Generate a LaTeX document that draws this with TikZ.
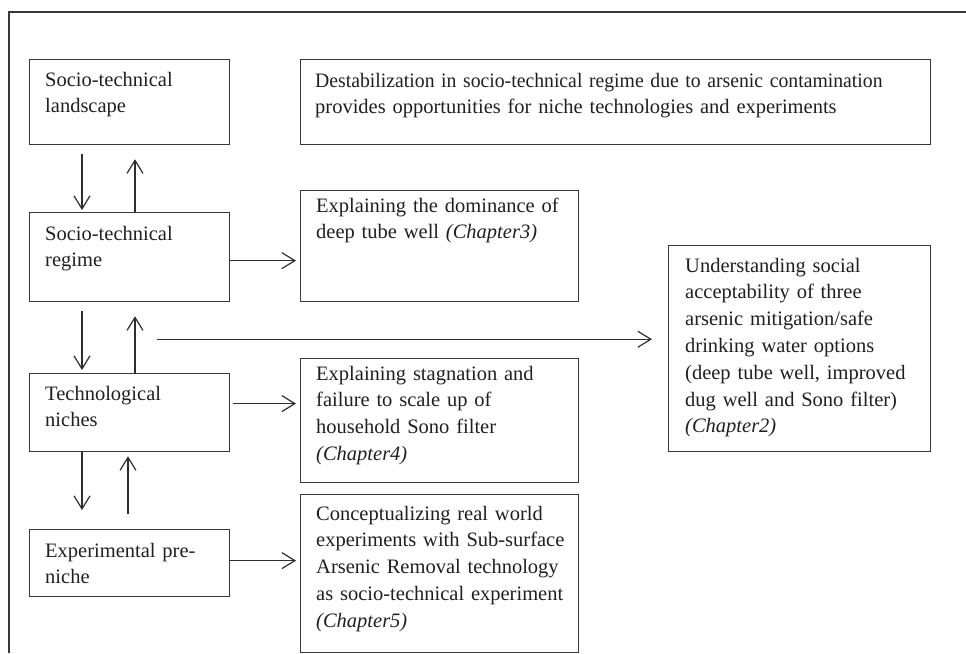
\documentclass[tikz,border=0pt]{standalone}
\usepackage{graphicx}
\usepackage{fontspec}
\setmainfont{Liberation Serif}
\usetikzlibrary{arrows.meta}

\begin{document}
\begin{tikzpicture}[x=1pt,y=-1pt,
  box/.style={draw=black!78, line width=1.25pt, anchor=north west, inner sep=0pt, rectangle},
  txt/.style={anchor=base west, inner sep=0pt, align=left, text=black!88,
    font=\fontsize{20.5}{26.8}\selectfont},
  arr/.style={draw=black!82, line width=1.2pt, -{Straight Barb[length=13pt,width=16pt,line width=1.2pt]}},
  frame/.style={draw=black!78, line width=1.25pt}]
\useasboundingbox (0,0) rectangle (966,653);

% outer frame (open on the right and bottom)
\coordinate (fbl) at (9,653);
\coordinate (ftl) at (9,12);
\coordinate (ftr) at (966,12);
\draw[frame] (fbl) -- (ftl) -- (ftr);

% left column: levels of the multi-level perspective
\node[box, minimum width=200pt, minimum height=85pt] (land) at (29,59) {};
\node[txt, text width=180pt] (landt) at (45,86) {Socio-technical\\landscape};

\node[box, minimum width=200pt, minimum height=89pt] (reg) at (29,212) {};
\node[txt, text width=180pt] (regt) at (45,240) {Socio-technical\\regime};

\node[box, minimum width=200pt, minimum height=78pt] (niche) at (29,373) {};
\node[txt, text width=180pt] (nicht) at (45,400) {Technological\\niches};

\node[box, minimum width=200pt, minimum height=67pt] (exp) at (29,529) {};
\node[txt, text width=180pt] (expt) at (45,557) {Experimental pre-\\niche};

% right column: chapters
\node[box, minimum width=630pt, minimum height=85pt] (dest) at (300,59) {};
\node[txt, text width=610pt] (destt) at (315,87) {\scalebox{0.962}[1]{Destabilization in socio-technical regime due to arsenic contamination}\\provides opportunities for niche technologies and experiments};

\node[box, minimum width=278pt, minimum height=111pt] (ch3) at (300,190) {};
\node[txt, text width=260pt] (ch3t) at (316,212) {Explaining the dominance of\\deep tube well \textit{(Chapter3)}};

\node[box, minimum width=278pt, minimum height=124pt] (ch4) at (300,358) {};
\node[txt, text width=260pt] (ch4t) at (316,380) {Explaining stagnation and\\failure to scale up of\\household Sono filter\\\textit{(Chapter4)}};

\node[box, minimum width=278pt, minimum height=158pt] (ch5) at (300,494) {};
\node[txt, text width=260pt] (ch5t) at (316,520) {Conceptualizing real world\\experiments with Sub-surface\\Arsenic Removal technology\\as socio-technical experiment\\\textit{(Chapter5)}};

\node[box, minimum width=262pt, minimum height=206pt] (ch2) at (668,245) {};
\node[txt, text width=245pt] (ch2t) at (685,272) {Understanding social\\acceptability of three\\arsenic mitigation/safe\\drinking water options\\(deep tube well, improved\\dug well and Sono filter)\\\textit{(Chapter2)}};

% vertical links between levels
\draw[arr] ([xshift=53pt,yshift=-9pt]land.south west) -- ([xshift=53pt,yshift=2pt]reg.north west);
\draw[arr] ([xshift=106pt]reg.north west) -- ([xshift=106pt,yshift=-14pt]land.south west);
\draw[arr] ([xshift=53pt,yshift=-9pt]reg.south west) -- ([xshift=53pt,yshift=3pt]niche.north west);
\draw[arr] ([xshift=106pt]niche.north west) -- ([xshift=106pt,yshift=-14pt]reg.south west);
\draw[arr] ([xshift=53pt]niche.south west) -- ([xshift=53pt,yshift=19pt]exp.north west);
\draw[arr] ([xshift=99pt,yshift=15pt]exp.north west) -- ([xshift=99pt,yshift=-4pt]niche.south west);

% links to chapters
\draw[arr] ([yshift=-3.5pt]reg.east) -- ([xshift=-4pt,yshift=-14.5pt]ch3.west);
\draw[arr] ([xshift=3pt,yshift=9pt]niche.east) -- ([xshift=-4pt,yshift=17pt]ch4.west);
\draw[arr] ([yshift=2.5pt]exp.east) -- ([xshift=-4pt,yshift=13pt]ch5.west);

\coordinate (split) at ([xshift=128pt,yshift=-37pt]reg.south west);
\draw[arr, shorten >=16pt] (split) -- (split -| ch2.west);
\end{tikzpicture}
\end{document}
